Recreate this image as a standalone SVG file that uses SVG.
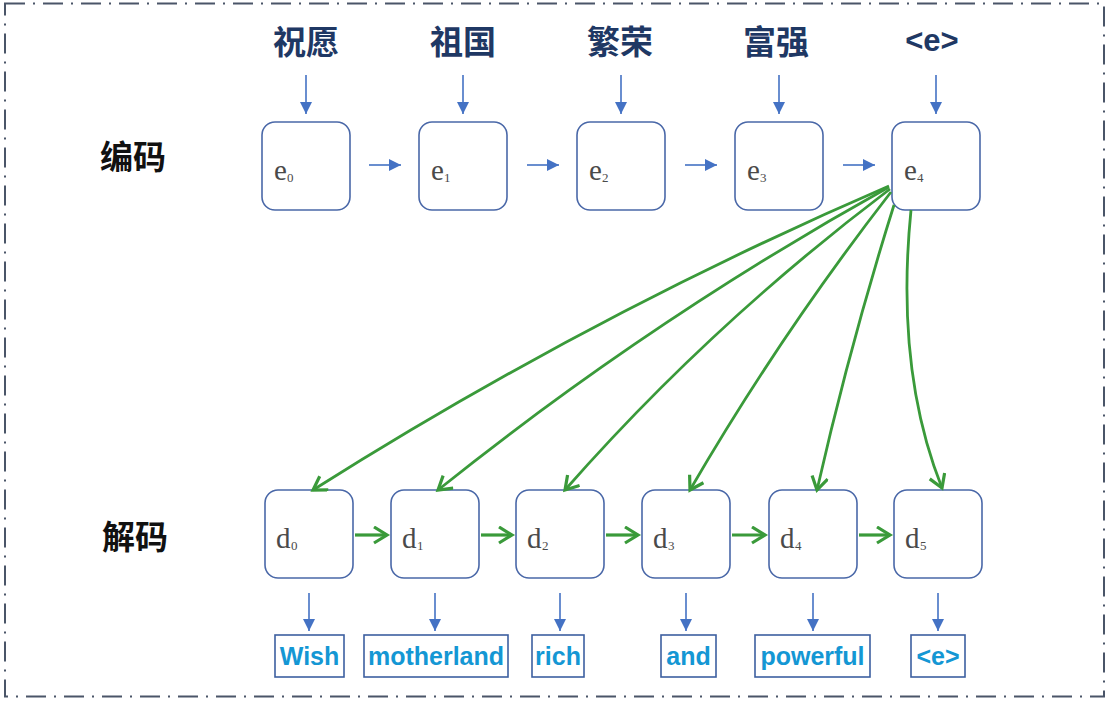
<svg xmlns="http://www.w3.org/2000/svg" width="1108" height="702" viewBox="0 0 1108 702">
<style>
.cn{font-family:"Noto Sans CJK SC","Liberation Sans",sans-serif;font-weight:bold;font-size:33px;fill:#1f3864;text-anchor:middle}
.side{font-family:"Noto Sans CJK SC","Liberation Sans",sans-serif;font-weight:bold;font-size:33px;fill:#111;text-anchor:middle}
.box{fill:#fff;stroke:#4a68a8;stroke-width:1.6}
.lbl{font-family:"Liberation Serif",serif;font-size:29px;fill:#4a4a4a}
.sub{font-family:"Liberation Serif",serif;font-size:13px;fill:#4a4a4a}
.ob{fill:#fff;stroke:#3d5fa0;stroke-width:1.6}
.ot{font-family:"Liberation Sans",Arial,sans-serif;font-weight:bold;font-size:25px;fill:#1497d4;text-anchor:middle}
.ba{stroke:#4472c4;stroke-width:1.6;fill:none;marker-end:url(#bh)}
.ga{stroke:#3a9a3a;stroke-width:3.2;fill:none;marker-end:url(#gh)}
.gc{stroke:#3a9a3a;stroke-width:2.8;fill:none;marker-end:url(#gh)}
</style>
<defs>
<marker id="bh" markerUnits="userSpaceOnUse" markerWidth="14" markerHeight="14" refX="12" refY="6" orient="auto">
<path d="M0,0 L12,6 L0,12 Z" fill="#4472c4"/>
</marker>
<marker id="gh" markerUnits="userSpaceOnUse" markerWidth="22" markerHeight="22" refX="15" refY="9" orient="auto">
<path d="M2,1 L15,9 L2,17" fill="none" stroke="#3a9a3a" stroke-width="3.2" stroke-linejoin="miter"/>
</marker>
</defs>
<rect x="0" y="0" width="1108" height="702" fill="#fff"/>
<rect x="5" y="3.5" width="1099" height="693" fill="none" stroke="#4a5568" stroke-width="2" stroke-dasharray="20 8 2 8"/>

<text class="side" x="133" y="169">编码</text>
<text class="side" x="135" y="549">解码</text>

<g id="inputs">
<text class="cn" x="306" y="54">祝愿</text>
<text class="cn" x="463" y="54">祖国</text>
<text class="cn" x="620" y="54">繁荣</text>
<text class="cn" x="776" y="54">富强</text>
<text class="cn" x="932" y="51" style="font-family:'Liberation Sans',sans-serif;font-size:31px">&lt;e&gt;</text>
</g>

<g id="e0"><rect class="box" x="262" y="122" width="88" height="88" rx="13"/><text class="lbl" x="274" y="180">e</text><text class="sub" x="287" y="182">0</text></g>
<g id="e1"><rect class="box" x="419" y="122" width="88" height="88" rx="13"/><text class="lbl" x="431" y="180">e</text><text class="sub" x="444" y="182">1</text></g>
<g id="e2"><rect class="box" x="577" y="122" width="88" height="88" rx="13"/><text class="lbl" x="589" y="180">e</text><text class="sub" x="602" y="182">2</text></g>
<g id="e3"><rect class="box" x="735" y="122" width="88" height="88" rx="13"/><text class="lbl" x="747" y="180">e</text><text class="sub" x="760" y="182">3</text></g>
<g id="e4"><rect class="box" x="892" y="122" width="88" height="88" rx="13"/><text class="lbl" x="904" y="180">e</text><text class="sub" x="917" y="182">4</text></g>

<g id="d0"><rect class="box" x="265" y="490" width="88" height="88" rx="13"/><text class="lbl" x="276" y="548">d</text><text class="sub" x="291" y="550">0</text></g>
<g id="d1"><rect class="box" x="391" y="490" width="88" height="88" rx="13"/><text class="lbl" x="402" y="548">d</text><text class="sub" x="417" y="550">1</text></g>
<g id="d2"><rect class="box" x="516" y="490" width="88" height="88" rx="13"/><text class="lbl" x="527" y="548">d</text><text class="sub" x="542" y="550">2</text></g>
<g id="d3"><rect class="box" x="642" y="490" width="88" height="88" rx="13"/><text class="lbl" x="653" y="548">d</text><text class="sub" x="668" y="550">3</text></g>
<g id="d4"><rect class="box" x="769" y="490" width="88" height="88" rx="13"/><text class="lbl" x="780" y="548">d</text><text class="sub" x="795" y="550">4</text></g>
<g id="d5"><rect class="box" x="894" y="490" width="88" height="88" rx="13"/><text class="lbl" x="905" y="548">d</text><text class="sub" x="920" y="550">5</text></g>

<g id="outputs">
<rect class="ob" x="275" y="635" width="69" height="42"/><text class="ot" x="309.5" y="665">Wish</text>
<rect class="ob" x="364" y="635" width="144" height="42"/><text class="ot" x="436" y="665">motherland</text>
<rect class="ob" x="532" y="635" width="52" height="42"/><text class="ot" x="558" y="665">rich</text>
<rect class="ob" x="661" y="635" width="55" height="42"/><text class="ot" x="688.5" y="665">and</text>
<rect class="ob" x="755" y="635" width="115" height="42"/><text class="ot" x="812.5" y="665">powerful</text>
<rect class="ob" x="911" y="635" width="54" height="42"/><text class="ot" x="938" y="665">&lt;e&gt;</text>
</g>

<g id="connectors">
<line class="ba" x1="306" y1="75" x2="306" y2="114"/>
<line class="ba" x1="463" y1="75" x2="463" y2="114"/>
<line class="ba" x1="621" y1="75" x2="621" y2="114"/>
<line class="ba" x1="779" y1="75" x2="779" y2="114"/>
<line class="ba" x1="936" y1="75" x2="936" y2="114"/>
<line class="ba" x1="369" y1="165" x2="401" y2="165"/>
<line class="ba" x1="527" y1="165" x2="559" y2="165"/>
<line class="ba" x1="685" y1="165" x2="717" y2="165"/>
<line class="ba" x1="843" y1="165" x2="875" y2="165"/>

<line class="ga" x1="355" y1="535" x2="387" y2="535"/>
<line class="ga" x1="481" y1="535" x2="512" y2="535"/>
<line class="ga" x1="606" y1="535" x2="638" y2="535"/>
<line class="ga" x1="732" y1="535" x2="765" y2="535"/>
<line class="ga" x1="859" y1="535" x2="890" y2="535"/>

<line class="ba" x1="309" y1="593" x2="309" y2="631"/>
<line class="ba" x1="435" y1="593" x2="435" y2="631"/>
<line class="ba" x1="560" y1="593" x2="560" y2="631"/>
<line class="ba" x1="686" y1="593" x2="686" y2="631"/>
<line class="ba" x1="813" y1="593" x2="813" y2="631"/>
<line class="ba" x1="938" y1="593" x2="938" y2="631"/>

<path class="gc" d="M889,186 Q590,315 313,490"/>
<path class="gc" d="M889,187 Q650,320 438,490"/>
<path class="gc" d="M890,189 Q710,325 565,490"/>
<path class="gc" d="M891,192 Q780,335 690,490"/>
<path class="gc" d="M894,205 Q850,345 817,490"/>
<path class="gc" d="M911,210 Q895,370 942,488"/>
</g>
</svg>
